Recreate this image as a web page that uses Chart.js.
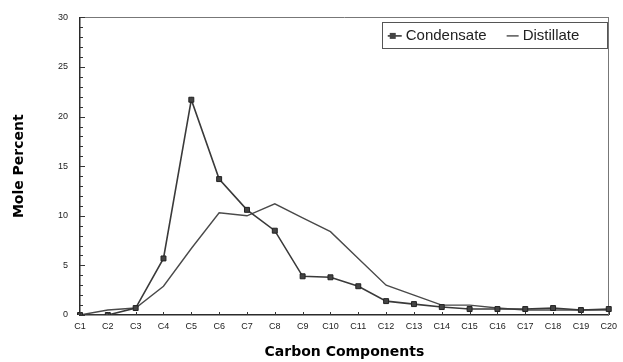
<!DOCTYPE html>
<html><head><meta charset="utf-8">
<script src="https://cdn.jsdelivr.net/npm/chart.js@4/dist/chart.umd.min.js"></script>
<style>html,body{margin:0;padding:0;background:#fff;overflow:hidden}canvas{display:block}</style>
</head><body>
<canvas id="c" width="623" height="362"></canvas>
<script>
const categories = ['C1','C2','C3','C4','C5','C6','C7','C8','C9','C10','C11','C12','C13','C14','C15','C16','C17','C18','C19','C20'];
const condensate = [0, 0, 0.7, 5.7, 21.7, 13.7, 10.6, 8.5, 3.9, 3.8, 2.9, 1.4, 1.1, 0.8, 0.6, 0.6, 0.6, 0.7, 0.5, 0.6];
const distillate = [0, 0.5, 0.7, 2.9, 6.7, 10.3, 10.0, 11.2, 9.8, 8.4, 5.7, 3.0, 2.0, 1.0, 1.0, 0.7, 0.5, 0.5, 0.5, 0.5];
const yTickLabels = [0, 5, 10, 15, 20, 25, 30];
const seriesNames = ['Condensate', 'Distillate'];
const xTitle = 'Carbon Components';
const yTitle = 'Mole Percent';

const ink = '#2b2b2b';

const innerTicks = {
  id: 'innerTicks',
  afterDatasetsDraw(chart) {
    const {ctx, chartArea, scales} = chart;
    ctx.save();
    ctx.strokeStyle = '#333';
    ctx.lineWidth = 1;
    scales.y.ticks.forEach(t => {
      const py = Math.round(scales.y.getPixelForValue(t.value)) + 0.5;
      const len = (t.value % 5 === 0) ? 5 : 3;
      ctx.beginPath(); ctx.moveTo(chartArea.left, py); ctx.lineTo(chartArea.left + len, py); ctx.stroke();
    });
    scales.x.ticks.forEach((t, i) => {
      const px = Math.round(scales.x.getPixelForTick(i)) + 0.5;
      ctx.beginPath(); ctx.moveTo(px, chartArea.bottom); ctx.lineTo(px, chartArea.bottom - 3); ctx.stroke();
    });
    ctx.restore();
  }
};

const boxLegend = {
  id: 'boxLegend',
  afterDraw(chart) {
    const {ctx, chartArea} = chart;
    const left = chartArea.right - 227, top = chartArea.top + 5, w = 225, h = 26;
    ctx.save();
    ctx.fillStyle = '#fff';
    ctx.fillRect(left, top, w, h);
    ctx.strokeStyle = '#555';
    ctx.lineWidth = 1;
    ctx.strokeRect(Math.round(left) + 0.5, Math.round(top) + 0.5, w, h);
    ctx.font = '15px "Liberation Sans", Arial, sans-serif';
    ctx.textBaseline = 'middle';
    const cy = top + h / 2 + 0.5;
    const ds = chart.data.datasets;
    // Condensate
    let x = left + 6;
    ctx.strokeStyle = ds[0].borderColor; ctx.lineWidth = ds[0].borderWidth;
    ctx.beginPath(); ctx.moveTo(x, cy); ctx.lineTo(x + 14, cy); ctx.stroke();
    ctx.fillStyle = ds[0].pointBackgroundColor;
    ctx.fillRect(x + 2, cy - 3, 6, 6);
    ctx.fillStyle = '#222';
    ctx.fillText(ds[0].label, x + 18, cy);
    x = x + 18 + ctx.measureText(ds[0].label).width + 20;
    ctx.strokeStyle = ds[1].borderColor; ctx.lineWidth = ds[1].borderWidth;
    ctx.beginPath(); ctx.moveTo(x, cy); ctx.lineTo(x + 12, cy); ctx.stroke();
    ctx.fillStyle = '#222';
    ctx.fillText(ds[1].label, x + 16, cy);
    ctx.restore();
  }
};

new Chart(document.getElementById('c'), {
  type: 'line',
  data: {
    labels: categories,
    datasets: [
      {
        label: seriesNames[0], data: condensate,
        borderColor: '#3a3a3a', borderWidth: 1.6,
        pointStyle: 'rect', pointRadius: 3.5,
        pointBackgroundColor: '#444', pointBorderColor: '#222', pointBorderWidth: 1,
        tension: 0
      },
      {
        label: seriesNames[1], data: distillate,
        borderColor: '#4a4a4a', borderWidth: 1.4,
        pointRadius: 0, tension: 0
      }
    ]
  },
  options: {
    responsive: false,
    devicePixelRatio: 1,
    animation: false,
    layout: {padding: {top: 17, right: 11, left: 0, bottom: 0}},
    plugins: {legend: {display: false}, tooltip: {enabled: false}},
    scales: {
      x: {
        type: 'category', offset: false,
        grid: {display: false, drawTicks: false},
        border: {display: true, color: ink, width: 1.5},
        ticks: {color: '#222', font: {size: 9, family: '"Liberation Sans", Arial, sans-serif'}, padding: 6, maxRotation: 0, autoSkip: false},
        title: {display: true, text: xTitle, color: '#000', font: {size: 14, weight: 'bold', family: '"DejaVu Sans", sans-serif'}, padding: {top: 0, bottom: 1}},
        afterFit(s) { s.height = 47; }
      },
      y: {
        min: 0, max: 30,
        grid: {display: false, drawTicks: false},
        border: {display: true, color: ink, width: 1.5},
        ticks: {stepSize: 1, autoSkip: false, color: '#222', padding: 12,
          font: {size: 9, family: '"Liberation Sans", Arial, sans-serif'},
          callback: v => yTickLabels.includes(v) ? String(v) : ''},
        title: {display: true, text: yTitle, color: '#000', font: {size: 14, weight: 'bold', family: '"DejaVu Sans", sans-serif'}, padding: {top: 11, bottom: 0}},
        afterFit(s) { s.width = 80; }
      },
      x2: {
        type: 'category', position: 'top', labels: categories,
        grid: {display: false, drawTicks: false}, ticks: {display: false},
        border: {display: true, color: '#777', width: 1},
        afterFit(s) { s.height = 0; }
      },
      y2: {
        position: 'right', min: 0, max: 30,
        grid: {display: false, drawTicks: false}, ticks: {display: false},
        border: {display: true, color: '#777', width: 1},
        afterFit(s) { s.width = 0; }
      }
    }
  },
  plugins: [innerTicks, boxLegend]
});
</script>
</body></html>
